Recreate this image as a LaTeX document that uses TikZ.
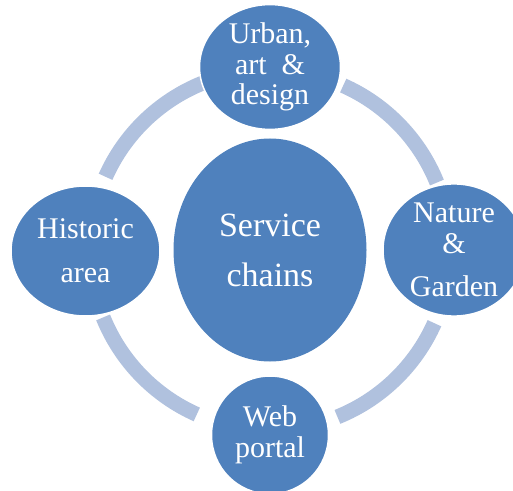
\documentclass[tikz,border=0pt]{standalone}
\usepackage{fontspec}
\setmainfont{Liberation Serif}
\usetikzlibrary{shapes.geometric}

\definecolor{nodeblue}{HTML}{4F81BD}
\definecolor{ringblue}{HTML}{B0C1DE}

\tikzset{
    centre/.style={ellipse, fill=nodeblue, text=white, inner sep=0pt, align=center,
                   minimum width=193pt, minimum height=223pt,
                   font=\fontsize{34}{50}\selectfont},
    outer/.style={ellipse, fill=nodeblue, draw=white, line width=1.5pt, text=white,
                  inner sep=0pt, align=center, font=\fontsize{30}{30.5}\selectfont},
    ring/.style={draw=ringblue, line width=15pt}
}

\begin{document}
\begin{tikzpicture}[x=1pt,y=1pt]
        \clip (0,0) rectangle (513,490);
        \node[centre] (service) at (270,240) {Service\\chains};
        \foreach \a in {22,112,202,292}
            \draw[ring] ([shift={(\a:180)}]service.center) arc[start angle=\a, delta angle=44, radius=180];
        \node[outer, minimum width=141pt, minimum height=115pt] (urban) at (270,423) {Urban,\\art~~\&\\design};
        \node[outer, minimum width=142pt, minimum height=128pt] (nature) at (454,240) {Nature\\\&\\[12.5pt]Garden};
        \node[outer, minimum width=117pt, minimum height=118pt] (web) at (270,55) {Web\\portal};
        \node[outer, minimum width=149pt, minimum height=130pt] (historic) at (85.5,239) {Historic\\[13.5pt]area};
\end{tikzpicture}
\end{document}
